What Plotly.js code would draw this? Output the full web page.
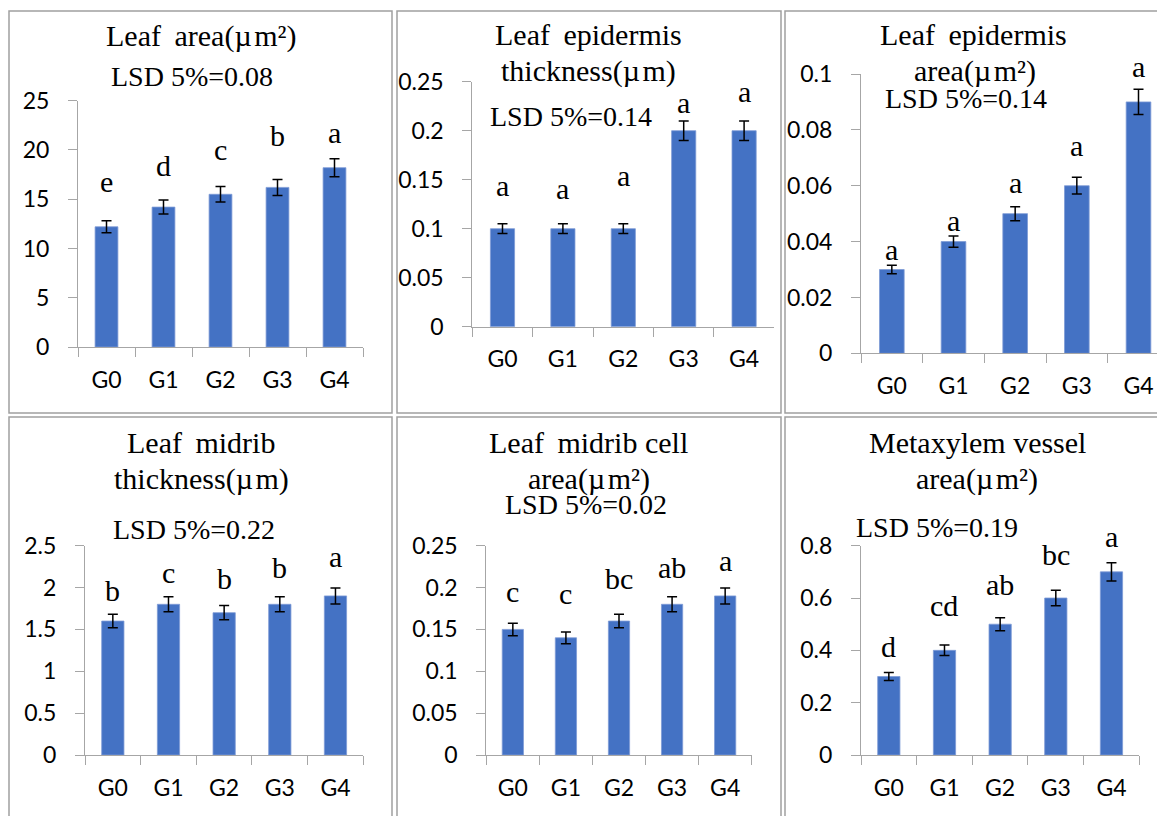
<!DOCTYPE html>
<html>
<head>
<meta charset="utf-8">
<script src="https://cdn.plot.ly/plotly-3.0.1.min.js"></script>
<style>html,body{margin:0;padding:0;background:#fff}#chart{width:1157px;height:816px}</style>
</head>
<body>
<div id="chart"></div>
<script>
// ---------------- DATA ----------------
const groups = ['G0', 'G1', 'G2', 'G3', 'G4'];

const leafArea        = [12.2, 14.2, 15.5, 16.2, 18.2];
const leafAreaErr     = [0.61, 0.71, 0.78, 0.81, 0.91];
const leafAreaLetters = ['e', 'd', 'c', 'b', 'a'];

const epiThick        = [0.1, 0.1, 0.1, 0.2, 0.2];
const epiThickErr     = [0.005, 0.005, 0.005, 0.01, 0.01];
const epiThickLetters = ['a', 'a', 'a', 'a', 'a'];

const epiArea         = [0.03, 0.04, 0.05, 0.06, 0.09];
const epiAreaErr      = [0.0015, 0.002, 0.0025, 0.003, 0.0045];
const epiAreaLetters  = ['a', 'a', 'a', 'a', 'a'];

const midThick        = [1.6, 1.8, 1.7, 1.8, 1.9];
const midThickErr     = [0.08, 0.09, 0.085, 0.09, 0.095];
const midThickLetters = ['b', 'c', 'b', 'b', 'a'];

const midCell         = [0.15, 0.14, 0.16, 0.18, 0.19];
const midCellErr      = [0.0075, 0.007, 0.008, 0.009, 0.0095];
const midCellLetters  = ['c', 'c', 'bc', 'ab', 'a'];

const metaxylem        = [0.3, 0.4, 0.5, 0.6, 0.7];
const metaxylemErr     = [0.015, 0.02, 0.025, 0.03, 0.035];
const metaxylemLetters = ['d', 'cd', 'ab', 'bc', 'a'];

const titles = [
  ['Leaf \u2009area(µ\u200am²)'],
  ['Leaf \u2009epidermis', 'thickness(µ\u200am)'],
  ['Leaf \u2009epidermis', 'area(µ\u200am²)'],
  ['Leaf \u2009midrib', 'thickness(µ\u200am)'],
  ['Leaf \u2009midrib cell', 'area(µ\u200am²)'],
  ['Metaxylem vessel', 'area(µ\u200am²)']
];
const lsdTexts = ['LSD 5%=0.08', 'LSD 5%=0.14', 'LSD 5%=0.14', 'LSD 5%=0.22', 'LSD 5%=0.02', 'LSD 5%=0.19'];

// ---------------- LAYOUT GEOMETRY (pixels) ----------------
const W = 1157, H = 816;
const px = x => x / W;
const py = y => 1 - y / H;

const panels = [
  {v: leafArea, e: leafAreaErr, l: leafAreaLetters, xd: [78, 363], yd: [347, 100.7], yr: [0, 25], dt: 5, xr: [-0.5, 4.5],
   tl: [[201, 45.7]], lsd: [192, 86], sh: [39, 35, 37, 44, 26]},
  {v: epiThick, e: epiThickErr, l: epiThickLetters, xd: [472.3, 774.3], yd: [326.7, 81.7], yr: [0, 0.25], dt: 0.05, xr: [-0.5, 4.5],
   tl: [[588.5, 44.3], [588.5, 81]], lsd: [571, 126], sh: [38, 35, 48, 18, 29]},
  {v: epiArea, e: epiAreaErr, l: epiAreaLetters, xd: [861, 1157], yd: [353.3, 74], yr: [0, 0.1], dt: 0.02, xr: [-0.5, 4.3],
   tl: [[973.5, 44.3], [974.5, 81]], lsd: [966, 108.3], sh: [16, 15, 24, 32, 23]},
  {v: midThick, e: midThickErr, l: midThickLetters, xd: [85, 363.3], yd: [755, 545.7], yr: [0, 2.5], dt: 0.5, xr: [-0.5, 4.5],
   tl: [[201, 452.7], [201, 489]], lsd: [194, 539.3], sh: [24, 24, 27, 29, 31]},
  {v: midCell, e: midCellErr, l: midCellLetters, xd: [486.3, 751.7], yd: [755, 545.7], yr: [0, 0.25], dt: 0.05, xr: [-0.5, 4.5],
   tl: [[588, 452.7], [588.5, 489]], lsd: [585.5, 514.3], sh: [32, 38, 36, 29, 27]},
  {v: metaxylem, e: metaxylemErr, l: metaxylemLetters, xd: [861, 1139.3], yd: [755, 545.7], yr: [0, 0.8], dt: 0.2, xr: [-0.5, 4.5],
   tl: [[977, 452.7], [976.5, 489]], lsd: [936.5, 536.7], sh: [26, 40, 33, 36, 26]}
];

const SERIF = 'Liberation Serif, Times New Roman, serif';
const SANS = 'Lato, Carlito, Calibri, sans-serif';
const TITLE_SIZE = 30, LSD_SIZE = 28, LETTER_SIZE = 30;
const AXIS_COLOR = '#a6a6a6';

const traces = [];
const layout = {
  width: W, height: H,
  margin: {l: 0, r: 0, t: 0, b: 0, pad: 0},
  paper_bgcolor: '#ffffff', plot_bgcolor: 'rgba(0,0,0,0)',
  showlegend: false,
  bargap: 0.6,
  annotations: [],
  shapes: []
};

panels.forEach((p, i) => {
  const n = i === 0 ? '' : String(i + 1);
  traces.push({
    type: 'bar', x: groups, y: p.v,
    xaxis: 'x' + n, yaxis: 'y' + n,
    marker: {color: '#4472C4', line: {color: '#7d9bd6', width: 0.8}},
    error_y: {type: 'data', array: p.e, visible: true, color: '#000000', thickness: 1.5, width: 5},
    hoverinfo: 'skip'
  });
  layout['xaxis' + n] = {
    domain: [px(p.xd[0]), px(p.xd[1])], anchor: 'y' + n,
    type: 'category', range: p.xr, fixedrange: true,
    showline: true, linecolor: AXIS_COLOR, linewidth: 1,
    ticks: 'outside', tickson: 'boundaries', ticklen: 9, tickcolor: AXIS_COLOR, tickwidth: 1,
    ticklabelstandoff: 12,
    showgrid: false, zeroline: false,
    tickfont: {family: SANS, size: 23, color: '#000000'}
  };
  layout['yaxis' + n] = {
    domain: [py(p.yd[0]), py(p.yd[1])], anchor: 'x' + n,
    range: p.yr, dtick: p.dt, tick0: 0, fixedrange: true,
    showline: true, linecolor: AXIS_COLOR, linewidth: 1,
    ticks: 'outside', ticklen: 9, tickcolor: AXIS_COLOR, tickwidth: 1,
    ticklabelstandoff: 14,
    showgrid: false, zeroline: false,
    tickfont: {family: SANS, size: 23, color: '#000000'}
  };
  // titles
  titles[i].forEach((t, k) => {
    layout.annotations.push({
      xref: 'paper', yref: 'paper', x: px(p.tl[k][0]), y: py(p.tl[k][1] - 0.3375 * TITLE_SIZE),
      xanchor: 'center', yanchor: 'middle', showarrow: false, text: t,
      font: {family: SERIF, size: TITLE_SIZE, color: '#000000'}
    });
  });
  layout.annotations.push({
    xref: 'paper', yref: 'paper', x: px(p.lsd[0]), y: py(p.lsd[1] - 0.3375 * LSD_SIZE),
    xanchor: 'center', yanchor: 'middle', showarrow: false, text: lsdTexts[i],
    font: {family: SERIF, size: LSD_SIZE, color: '#000000'}
  });
  // significance letters, anchored at the top of each error bar
  groups.forEach((g, j) => {
    layout.annotations.push({
      xref: 'x' + n, yref: 'y' + n, x: g, y: p.v[j] + p.e[j],
      xanchor: 'center', yanchor: 'middle', yshift: p.sh[j], showarrow: false,
      text: p.l[j], font: {family: SERIF, size: LETTER_SIZE, color: '#000000'}
    });
  });
});

// table cell borders
const cells = [
  [9, 11, 392, 413], [397, 11, 781, 413], [785, 11, 1165, 413],
  [9, 417, 392, 830], [397, 417, 781, 830], [785, 417, 1165, 830]
];
cells.forEach(c => {
  layout.shapes.push({
    type: 'rect', xref: 'paper', yref: 'paper',
    x0: px(c[0]), x1: px(c[2]), y0: py(c[3]), y1: py(c[1]),
    line: {color: '#a0a0a0', width: 1.5}, fillcolor: 'rgba(0,0,0,0)', layer: 'below'
  });
});

Plotly.newPlot('chart', traces, layout, {displayModeBar: false, staticPlot: true});
</script>
</body>
</html>
